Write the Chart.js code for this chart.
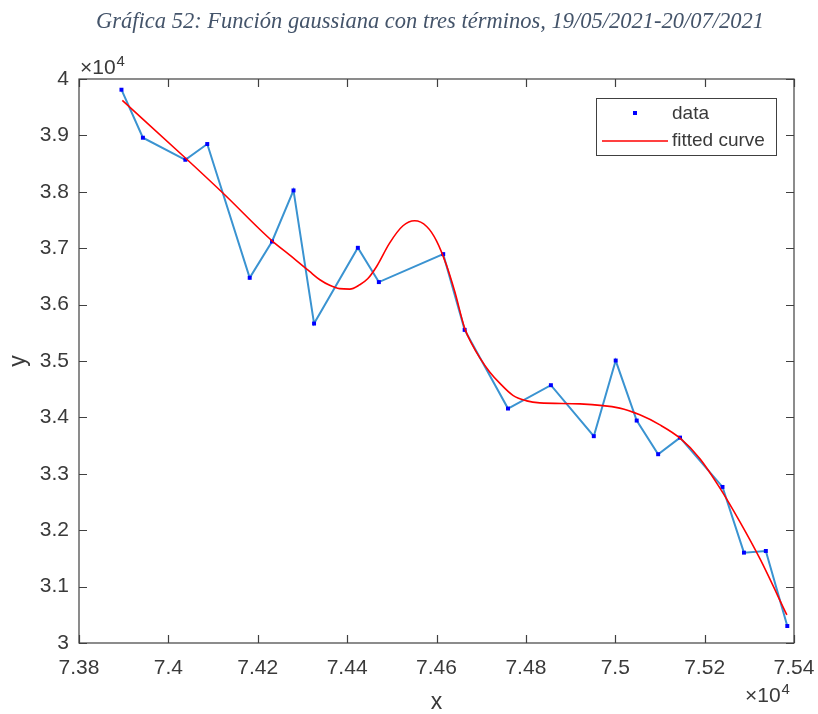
<!DOCTYPE html>
<html>
<head>
<meta charset="utf-8">
<script src="https://cdn.jsdelivr.net/npm/chart.js@4.4.1/dist/chart.umd.min.js"></script>
<style>
  html, body { margin: 0; padding: 0; background: #ffffff; }
  #wrap { position: relative; width: 818px; height: 714px; }
</style>
</head>
<body>
<div id="wrap"><canvas id="c" width="818" height="714"></canvas></div>
<script>
// Heading and axis captions
const titleText = 'Gráfica 52: Función gaussiana con tres términos, 19/05/2021-20/07/2021';
const xAxisLabel = 'x';
const yAxisLabel = 'y';
const legendLabels = ['data', 'fitted curve'];

// Observed data
const dataX = [73895, 73943, 74038, 74087, 74182, 74232, 74280, 74326, 74424, 74471, 74615, 74663,
               74760, 74856, 74952, 75001, 75048, 75096, 75145, 75240, 75288, 75337, 75385];
const dataY = [39810, 38959, 38568, 38847, 36475, 37119, 38024, 35664, 37007, 36399, 36895, 35552,
               34157, 34571, 33667, 35008, 33944, 33347, 33642, 32767, 31602, 31632, 30301];

// Three-term gaussian fit, sampled along x
const fitX = [73897, 74040, 74122, 74232, 74271, 74316, 74339, 74361, 74383, 74406, 74428, 74446,
              74466, 74495, 74525, 74551, 74578, 74600, 74622, 74641, 74663, 74679, 74697, 74719,
              74742, 74771, 74802, 74831, 74921, 75010, 75055, 75100, 75145, 75190, 75234, 75279,
              75324, 75384];
const fitY = [39620, 38586, 37978, 37131, 36883, 36587, 36440, 36342, 36283, 36275, 36351, 36457,
              36676, 37091, 37398, 37486, 37385, 37131, 36706, 36227, 35583, 35304, 35056, 34807,
              34603, 34391, 34293, 34258, 34240, 34164, 34045, 33867, 33631, 33264, 32750, 32147,
              31490, 30497];

// Axis ticks (values are shown in units of 10^4)
const xTickLabels = ['7.38', '7.4', '7.42', '7.44', '7.46', '7.48', '7.5', '7.52', '7.54'];
const yTickLabels = ['3', '3.1', '3.2', '3.3', '3.4', '3.5', '3.6', '3.7', '3.8', '3.9', '4'];

const AXIS_COLOR = '#404040';
const TEXT_COLOR = '#3a3a3a';
const SANS = '"Liberation Sans", Arial, sans-serif';

const toPoints = (xs, ys) => xs.map((x, i) => ({ x: x, y: ys[i] }));

// Box, inward ticks, exponent notes, captions and legend
const framePlugin = {
  id: 'frame',
  beforeDatasetsDraw(chart) {
    const { ctx, chartArea: a, scales: { x, y } } = chart;
    ctx.save();
    ctx.strokeStyle = AXIS_COLOR;
    ctx.lineWidth = 1.2;
    ctx.strokeRect(a.left, a.top, a.right - a.left, a.bottom - a.top);
    const tl = 8;
    ctx.beginPath();
    x.ticks.forEach(t => {
      const px = Math.round(x.getPixelForValue(t.value)) + 0.5;
      ctx.moveTo(px, a.bottom); ctx.lineTo(px, a.bottom - tl);
      ctx.moveTo(px, a.top); ctx.lineTo(px, a.top + tl);
    });
    y.ticks.forEach(t => {
      const py = Math.round(y.getPixelForValue(t.value)) + 0.5;
      ctx.moveTo(a.left, py); ctx.lineTo(a.left + tl, py);
      ctx.moveTo(a.right, py); ctx.lineTo(a.right - tl, py);
    });
    ctx.stroke();
    ctx.restore();
  },
  afterDraw(chart) {
    const { ctx, chartArea: a } = chart;
    ctx.save();

    // heading
    ctx.fillStyle = '#44546a';
    ctx.font = 'italic 22.5px "Liberation Serif", "Times New Roman", serif';
    ctx.textAlign = 'center';
    ctx.textBaseline = 'middle';
    ctx.fillText(titleText, 430, 22);

    // axis captions
    ctx.fillStyle = TEXT_COLOR;
    ctx.font = '23px ' + SANS;
    ctx.fillText(xAxisLabel, (a.left + a.right) / 2, 703);
    ctx.save();
    ctx.translate(19, (a.top + a.bottom) / 2);
    ctx.rotate(-Math.PI / 2);
    ctx.fillText(yAxisLabel, 0, 0);
    ctx.restore();

    // exponent notes
    const drawExp = (xLeft, yBase) => {
      ctx.textAlign = 'left';
      ctx.textBaseline = 'alphabetic';
      ctx.font = '21px ' + SANS;
      const s = '\u00d710';
      ctx.fillText(s, xLeft, yBase);
      const w = ctx.measureText(s).width;
      ctx.font = '15px ' + SANS;
      ctx.fillText('4', xLeft + w + 1, yBase - 8);
    };
    drawExp(a.left + 1, a.top - 5);
    drawExp(a.right - 49, 702);

    // legend
    const lx = 596, ly = 98, lw = 180, lh = 57;
    ctx.fillStyle = '#ffffff';
    ctx.fillRect(lx, ly, lw, lh);
    ctx.strokeStyle = AXIS_COLOR;
    ctx.lineWidth = 1;
    ctx.strokeRect(lx + 0.5, ly + 0.5, lw, lh);
    ctx.fillStyle = '#0000ff';
    ctx.fillRect(633, 111, 4, 4);
    ctx.strokeStyle = '#ff0000';
    ctx.lineWidth = 1.6;
    ctx.beginPath();
    ctx.moveTo(602, 141); ctx.lineTo(668, 141);
    ctx.stroke();
    ctx.fillStyle = TEXT_COLOR;
    ctx.font = '19px ' + SANS;
    ctx.textAlign = 'left';
    ctx.textBaseline = 'middle';
    ctx.fillText(legendLabels[0], 672, 114);
    ctx.fillText(legendLabels[1], 672, 141);
    ctx.restore();
  }
};

new Chart(document.getElementById('c'), {
  type: 'scatter',
  data: {
    datasets: [
      {
        label: legendLabels[1],
        data: toPoints(fitX, fitY),
        showLine: true,
        borderColor: '#ff0000',
        borderWidth: 1.6,
        pointRadius: 0,
        cubicInterpolationMode: 'monotone',
        order: 1
      },
      {
        label: legendLabels[0],
        data: toPoints(dataX, dataY),
        showLine: true,
        borderColor: '#3a93d1',
        borderWidth: 2,
        pointStyle: 'rect',
        pointRadius: 2.8,
        pointBorderWidth: 0,
        pointBackgroundColor: '#0000ff',
        order: 2
      }
    ]
  },
  options: {
    responsive: false,
    animation: false,
    devicePixelRatio: 1,
    layout: { padding: { top: 79, right: 24, left: 0, bottom: 0 } },
    plugins: { legend: { display: false }, tooltip: { enabled: false }, title: { display: false } },
    scales: {
      x: {
        type: 'linear',
        min: 73800, max: 75400,
        afterFit(s) { s.height = 71; s.paddingLeft = 0; s.paddingRight = 0; },
        grid: { display: false, drawTicks: false },
        border: { display: false },
        ticks: {
          stepSize: 200,
          padding: 13,
          maxRotation: 0,
          autoSkip: false,
          color: TEXT_COLOR,
          font: { family: SANS, size: 21 },
          callback: (v, i) => xTickLabels[i]
        }
      },
      y: {
        type: 'linear',
        min: 30000, max: 40000,
        afterFit(s) { s.width = 79; },
        grid: { display: false, drawTicks: false },
        border: { display: false },
        ticks: {
          stepSize: 1000,
          padding: 10,
          autoSkip: false,
          color: TEXT_COLOR,
          font: { family: SANS, size: 21 },
          callback: (v, i) => yTickLabels[i]
        }
      }
    }
  },
  plugins: [framePlugin]
});
</script>
</body>
</html>
